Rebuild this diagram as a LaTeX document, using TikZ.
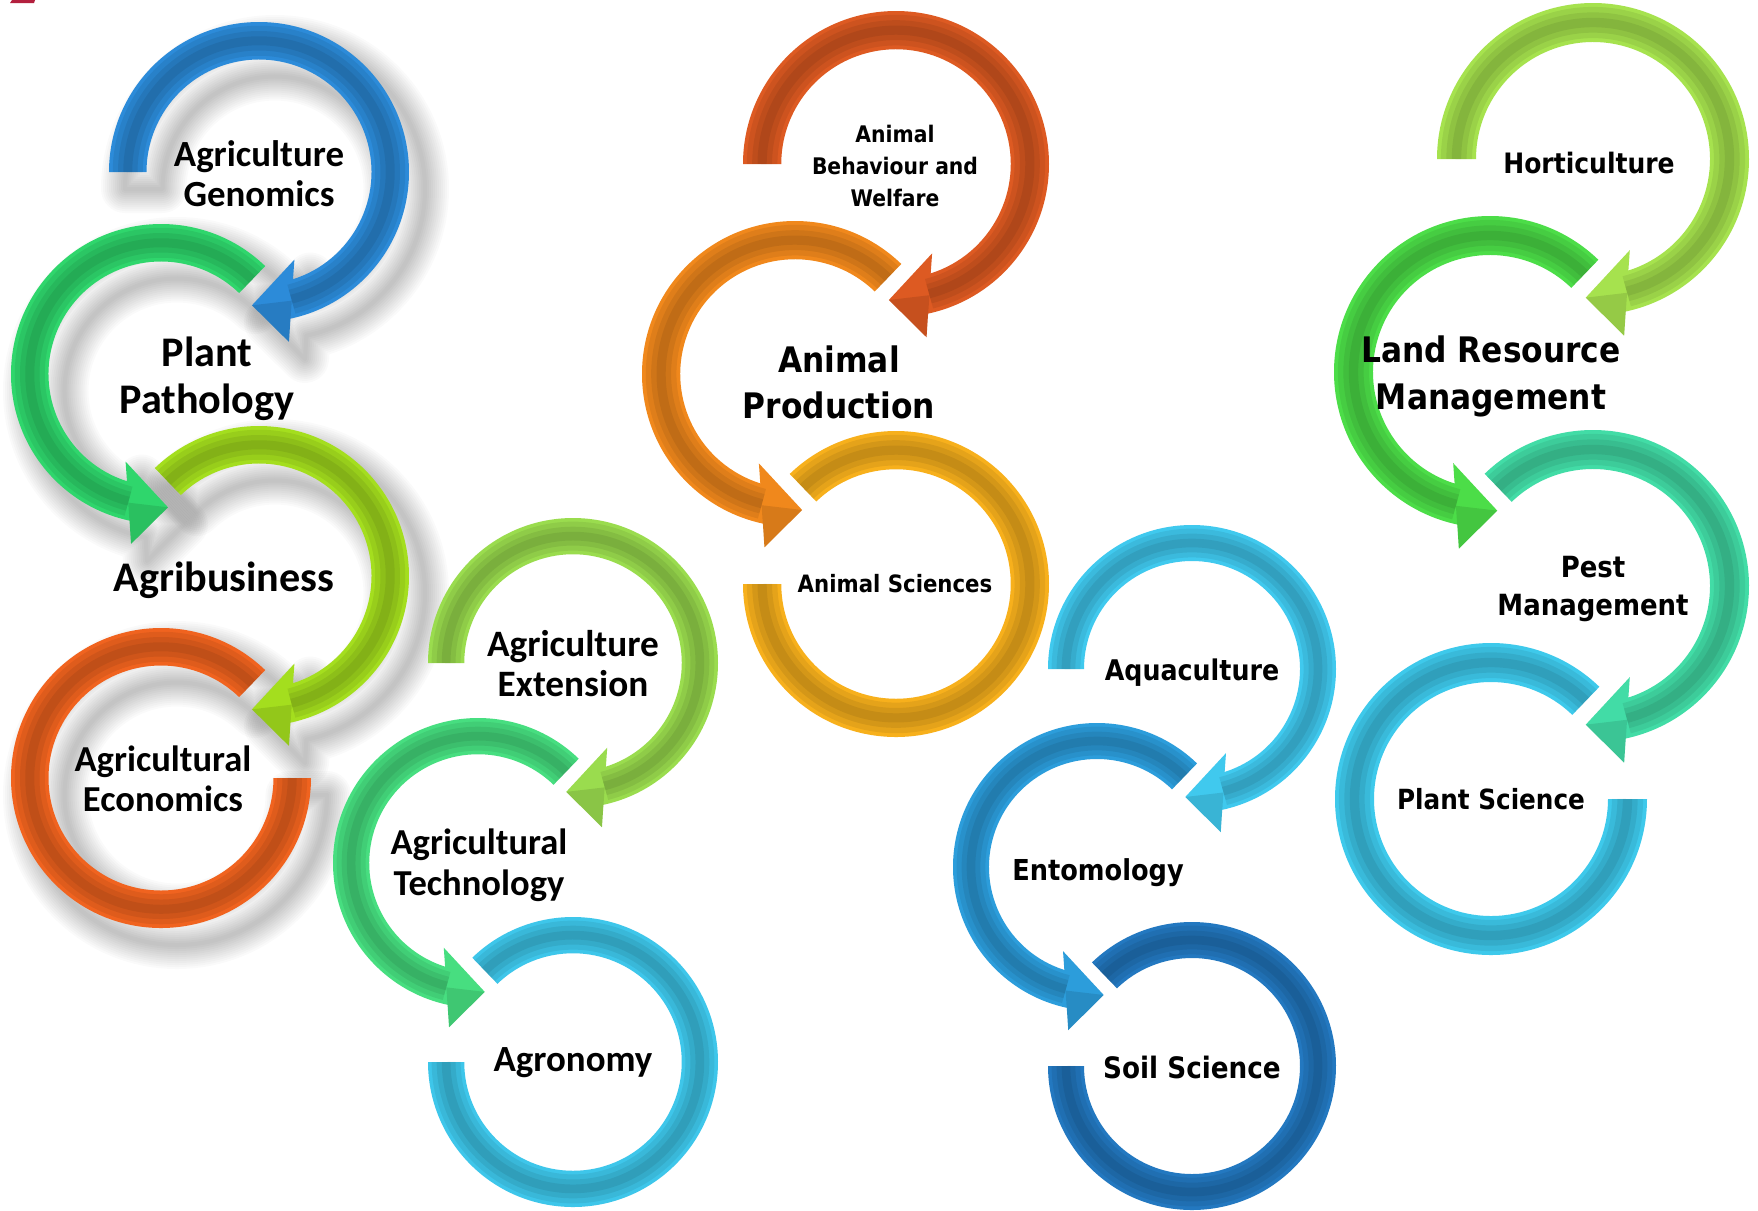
\documentclass[tikz,border=0pt]{standalone}
\usepackage{fontspec}
\newfontfamily\calfont{Carlito}
\newfontfamily\verfont[FakeStretch=0.89]{DejaVu Sans}

\definecolor{genblue}{HTML}{2C8BD9}
\definecolor{pathgreen}{HTML}{2FD66C}
\definecolor{busgreen}{HTML}{A4DE1E}
\definecolor{econorange}{HTML}{F0631F}
\definecolor{extgreen}{HTML}{9ADC4E}
\definecolor{techgreen}{HTML}{47DE80}
\definecolor{agrocyan}{HTML}{3EC6EA}
\definecolor{behavred}{HTML}{DD5A22}
\definecolor{prodorange}{HTML}{F0881C}
\definecolor{sciyellow}{HTML}{F7B01C}
\definecolor{aquacyan}{HTML}{40C9EE}
\definecolor{entoblue}{HTML}{2C9DDB}
\definecolor{soilblue}{HTML}{2378C0}
\definecolor{hortgreen}{HTML}{A6E24E}
\definecolor{landgreen}{HTML}{4CDD48}
\definecolor{pestteal}{HTML}{42DCA6}
\definecolor{plantcyan}{HTML}{3EC9EB}
\definecolor{markred}{HTML}{B3203E}

\tikzset{
	txtc/.style 2 args={align=center, inner sep=0pt, font=\calfont\bfseries\fontsize{#1}{#2}\selectfont},
	txtv/.style 2 args={align=center, inner sep=0pt, font=\verfont\bfseries\fontsize{#1}{#2}\selectfont},
	shadestroke/.style={draw=black, draw opacity=0.02, line width=#1*0.1mm, line join=round}
}

% circular arrow with a head: centre, radius, mirror (1/-1), start angle, options
\newcommand{\headpath}[5]{%
	\pgfmathsetmacro\aS{-(#3)*(#4)-90*(1-(#3))}
	\pgfmathsetmacro\aO{(#3)*77.9-90*(1-(#3))}
	\pgfmathsetmacro\aI{(#3)*72.4-90*(1-(#3))}
	\pgfmathsetmacro\aT{(#3)*93-90*(1-(#3))}
	\pgfmathsetmacro\aP{(#3)*80-90*(1-(#3))}
	\pgfmathsetmacro\aQ{(#3)*68-90*(1-(#3))}
	\pgfmathsetmacro\aM{(#3)*75.7-90*(1-(#3))}
	\path[#5] ([shift={#1}]\aS:#2) arc[start angle=\aS, end angle=\aO, radius=#2]
	-- ([shift={#1}]\aP:{1.15*#2}) -- ([shift={#1}]\aT:{0.89*#2})
	-- ([shift={#1}]\aQ:{0.63*#2}) -- ([shift={#1}]\aI:{0.75*#2})
	arc[start angle=\aI, end angle=\aS, radius=0.75*#2] -- cycle;
}
% last ring of a chain, two flat ends
\newcommand{\lastpath}[5]{%
	\pgfmathsetmacro\aS{-(#3)*(#4)-90*(1-(#3))}
	\pgfmathsetmacro\aE{(#3)*180-90*(1-(#3))}
	\pgfmathsetmacro\aM{\aE}
	\path[#5] ([shift={#1}]\aS:#2) arc[start angle=\aS, end angle=\aE, radius=#2]
	-- ([shift={#1}]\aE:{0.75*#2}) arc[start angle=\aE, end angle=\aS, radius=0.75*#2] -- cycle;
}
% darker band along the middle of the ring
\newcommand{\ringband}[2]{%
	\foreach \w in {0.2,0.13,0.06}
	\draw[black, opacity=0.07, line width=\w*#2*0.1mm] ([shift={#1}]\aS:{0.875*#2})
	arc[start angle=\aS, end angle=\aM, radius=0.875*#2];
}
\newcommand{\headring}[5]{%
	\headpath{#1}{#2}{#3}{#4}{fill=#5}
	\ringband{#1}{#2}
	\fill[black, opacity=0.1] ([shift={#1}]\aT:{0.89*#2}) -- ([shift={#1}]\aP:{1.15*#2})
	-- ([shift={#1}]\aM:{0.885*#2}) -- cycle;
}
\newcommand{\lastring}[5]{%
	\lastpath{#1}{#2}{#3}{#4}{fill=#5}
	\ringband{#1}{#2}
}

\begin{document}
\begin{tikzpicture}[x=0.1mm,y=-0.1mm]
	\useasboundingbox (0,0) rectangle (1758,1210);
	\fill[white] (0,0) rectangle (1758,1210);
	\fill[markred] (10,3) -- (12,0) -- (35,0) -- (34,3) -- cycle;
	\path
	(259,172) coordinate (c1) (161,374) coordinate (c2)
	(259,576) coordinate (c3) (161,778) coordinate (c4)
	(573,663) coordinate (c5) (478,863) coordinate (c6) (573,1062) coordinate (c7)
	(896,164) coordinate (c8) (795,374) coordinate (c9) (896,584) coordinate (c10)
	(1192,669) coordinate (c11) (1097,867) coordinate (c12) (1192,1066) coordinate (c13)
	(1593,159) coordinate (c14) (1490,372) coordinate (c15)
	(1593,586) coordinate (c16) (1491,799) coordinate (c17);
	
	% soft shadows of the first chain
	\begin{scope}[transform canvas={shift={(1.6mm,-1.7mm)}}]
		\foreach \w in {48,44,...,4} {
			\headpath{(c1)}{150}{1}{180}{shadestroke=\w}
			\headpath{(c2)}{150}{-1}{134}{shadestroke=\w}
			\headpath{(c3)}{150}{1}{134}{shadestroke=\w}
			\lastpath{(c4)}{150}{-1}{134}{shadestroke=\w}
		}
	\end{scope}
	
	\headring{(c1)}{150}{1}{180}{genblue}
	\headring{(c2)}{150}{-1}{134}{pathgreen}
	\headring{(c3)}{150}{1}{134}{busgreen}
	\lastring{(c4)}{150}{-1}{134}{econorange}
	
	\headring{(c5)}{145}{1}{180}{extgreen}
	\headring{(c6)}{145}{-1}{134}{techgreen}
	\lastring{(c7)}{145}{1}{134}{agrocyan}
	
	\headring{(c8)}{153}{1}{180}{behavred}
	\headring{(c9)}{153}{-1}{134}{prodorange}
	\lastring{(c10)}{153}{1}{134}{sciyellow}
	
	\headring{(c11)}{144}{1}{180}{aquacyan}
	\headring{(c12)}{144}{-1}{134}{entoblue}
	\lastring{(c13)}{144}{1}{134}{soilblue}
	
	\headring{(c14)}{156}{1}{180}{hortgreen}
	\headring{(c15)}{156}{-1}{134}{landgreen}
	\headring{(c16)}{156}{1}{134}{pestteal}
	\lastring{(c17)}{156}{-1}{134}{plantcyan}
	
	\node[txtc={10.5}{11.4}] (genomics) at (259,174) {Agriculture\\Genomics};
	\node[txtc={12}{13.4}] (pathology) at (207,379) {Plant\\Pathology};
	\node[txtc={12}{13.4}] (agribusiness) at (224,580) {Agribusiness};
	\node[txtc={10.4}{11.4}] (economics) at (163,779) {Agricultural\\Economics};
	\node[txtc={10.6}{11.4}] (extension) at (573,664) {Agriculture\\Extension};
	\node[txtc={10.4}{11.6}] (technology) at (479,865) {Agricultural\\Technology};
	\node[txtc={10.5}{11.4}] (agronomy) at (573,1063) {Agronomy};
	
	\node[txtv={6.5}{9.1}] (behaviour) at (895,166) {Animal\\Behaviour and\\Welfare};
	\node[txtv={10}{13.1}] (production) at (839,382) {Animal\\Production};
	\node[txtv={6.8}{8}] (sciences) at (895,584) {Animal Sciences};
	\node[txtv={8.1}{10}] (aquaculture) at (1192,673) {Aquaculture};
	\node[txtv={8.2}{10}] (entomology) at (1098,873) {Entomology};
	\node[txtv={8.4}{10}] (soil) at (1192,1067) {Soil Science};
	\node[txtv={8}{10}] (horticulture) at (1589,163) {Horticulture};
	\node[txtv={10}{13.4}] (landres) at (1491,376) {Land Resource\\Management};
	\node[txtv={8.3}{10.8}] (pest) at (1593,589) {Pest\\Management};
	\node[txtv={7.9}{10}] (plantsci) at (1491,799) {Plant Science};
\end{tikzpicture}
\end{document}
